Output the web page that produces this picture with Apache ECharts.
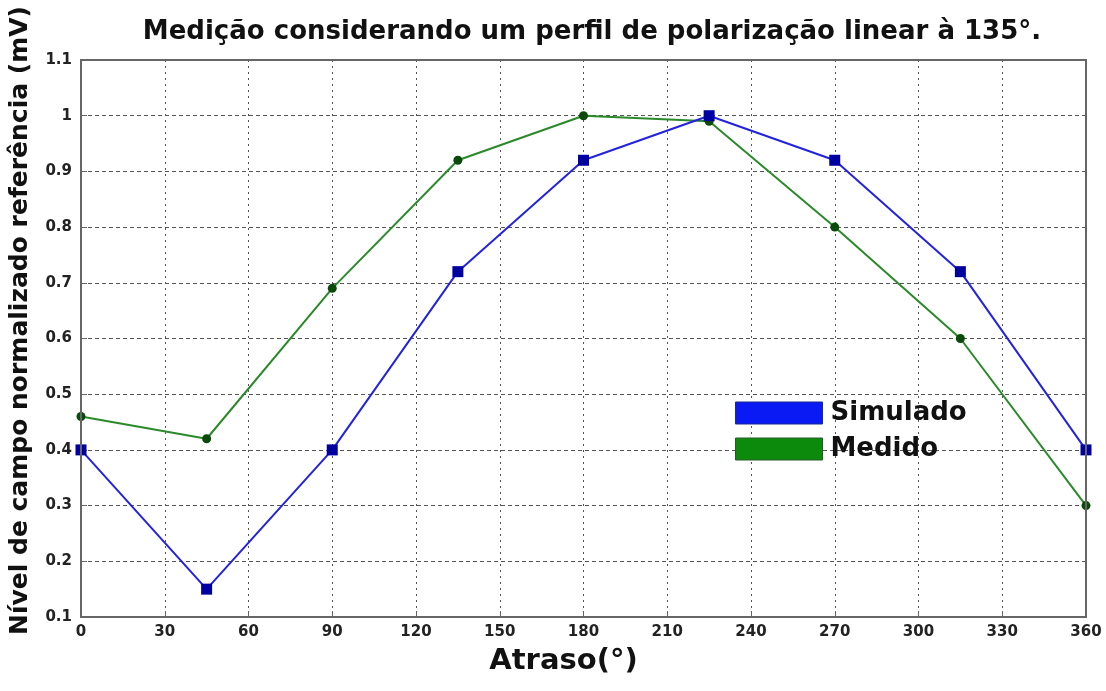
<!DOCTYPE html>
<html><head><meta charset="utf-8">
<script src="https://cdn.jsdelivr.net/npm/echarts@6/dist/echarts.min.js"></script>
<style>html,body{margin:0;padding:0;background:#fff}#c{width:1106px;height:691px}</style>
</head><body><div id="c"></div>
<script>
const delays = [0, 45, 90, 135, 180, 225, 270, 315, 360];
const simulado = [0.40, 0.15, 0.40, 0.72, 0.92, 1.00, 0.92, 0.72, 0.40];
const medido = [0.46, 0.42, 0.69, 0.92, 1.00, 0.99, 0.80, 0.60, 0.30];
const xTicks = [0, 30, 60, 90, 120, 150, 180, 210, 240, 270, 300, 330, 360];
const yTicks = [0.1, 0.2, 0.3, 0.4, 0.5, 0.6, 0.7, 0.8, 0.9, 1, 1.1];

const chart = echarts.init(document.getElementById('c'));
const font = '"DejaVu Sans", sans-serif';
chart.setOption({
  animation: false,
  title: {
    text: 'Medição considerando um perfil de polarização linear à 135°.',
    left: 592, top: 19, textAlign: 'center', padding: 0,
    textStyle: {fontFamily: font, fontWeight: 'bold', fontSize: 26, color: '#111'}
  },
  legend: {
    left: 735, top: 400, orient: 'vertical', itemWidth: 87, itemHeight: 22, itemGap: 10, padding: 0,
    data: [
      {name: 'Simulado', icon: 'rect', itemStyle: {color: '#0a1af5', borderColor: '#1a2a8a', borderWidth: 1}},
      {name: 'Medido', icon: 'rect', itemStyle: {color: '#0c8a0c', borderColor: '#2a5a2a', borderWidth: 1}}
    ],
    textStyle: {fontFamily: font, fontWeight: 'bold', fontSize: 26, color: '#111', lineHeight: 22, padding: [0, 0, 0, 3]}
  },
  grid: {left: 81, right: 20, top: 60, bottom: 74, containLabel: false, outerBoundsMode: 'none'},
  xAxis: {
    type: 'value', min: 0, max: 360, interval: 30,
    name: 'Atraso(°)', nameLocation: 'middle', nameGap: 30,
    nameTextStyle: {fontFamily: font, fontWeight: 'bold', fontSize: 29, color: '#111', padding: [0, 40, 0, 0]},
    axisLine: {show: true, lineStyle: {color: '#666', width: 2}},
    axisTick: {show: true, inside: true, length: 6, lineStyle: {color: '#666'}},
    axisLabel: {fontFamily: font, fontWeight: 'bold', fontSize: 15, color: '#222', margin: 8,
      formatter: v => String(xTicks.reduce((a, b) => Math.abs(b - v) < Math.abs(a - v) ? b : a))},
    splitLine: {show: true, lineStyle: {color: '#555', type: [2, 4], width: 1}}
  },
  yAxis: {
    type: 'value', min: 0.1, max: 1.1, interval: 0.1,
    name: 'Nível de campo normalizado referência (mV)', nameLocation: 'middle', nameGap: 48,
    nameTextStyle: {fontFamily: font, fontWeight: 'bold', fontSize: 25, color: '#111', padding: [0, 0, 0, 36]},
    axisLine: {show: true, lineStyle: {color: '#666', width: 2}},
    axisTick: {show: true, inside: true, length: 6, lineStyle: {color: '#666'}},
    axisLabel: {fontFamily: font, fontWeight: 'bold', fontSize: 15, color: '#222', margin: 9,
      formatter: v => String(yTicks.reduce((a, b) => Math.abs(b - v) < Math.abs(a - v) ? b : a))},
    splitLine: {show: true, lineStyle: {color: '#555', type: [4, 3], width: 1}}
  },
  series: [
    {
      name: 'Simulado', type: 'line', data: delays.map((d, i) => [d, simulado[i]]),
      lineStyle: {color: '#2222e0', width: 2},
      symbol: 'rect', symbolSize: 11, itemStyle: {color: '#0000a0'}, z: 3
    },
    {
      name: 'Medido', type: 'line', data: delays.map((d, i) => [d, medido[i]]),
      lineStyle: {color: '#2a8a2a', width: 2},
      symbol: 'circle', symbolSize: 9, itemStyle: {color: '#0a4a0a'}, z: 2
    }
  ],
  graphic: [{type: 'rect', shape: {x: 81, y: 60, width: 1005, height: 557},
    style: {fill: 'none', stroke: '#666', lineWidth: 2}, silent: true, z: 10}]
});
</script></body></html>
